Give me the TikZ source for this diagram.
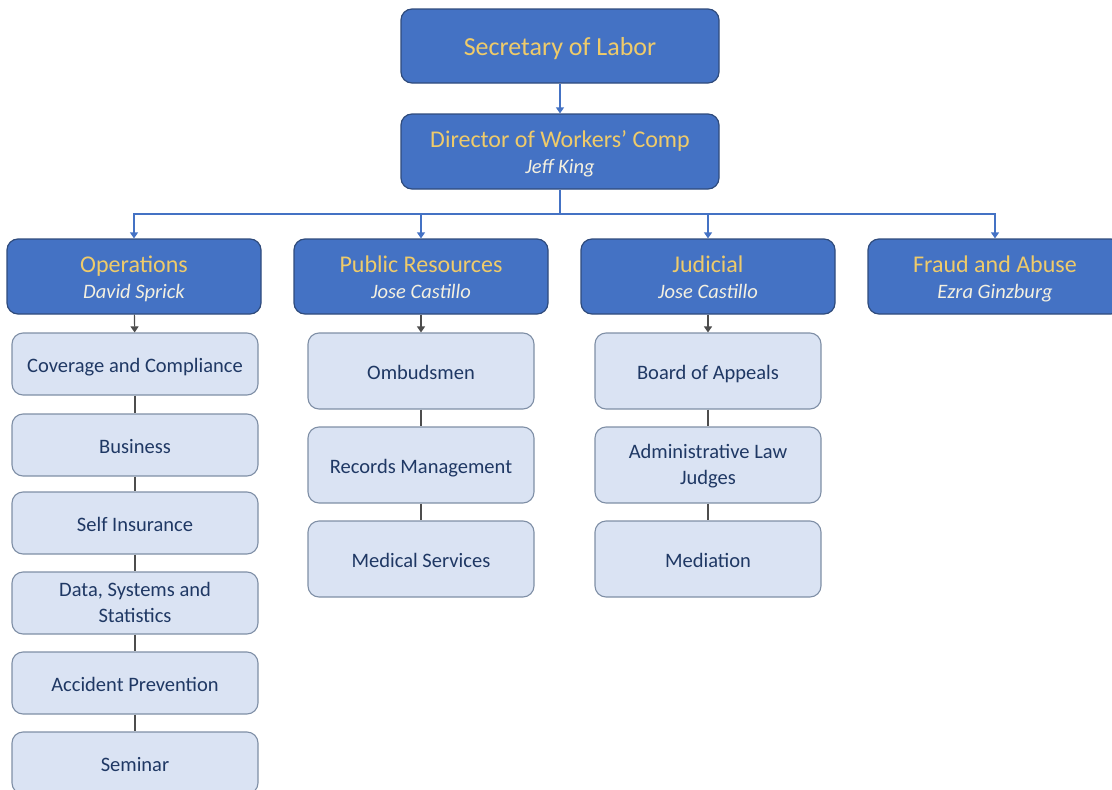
\documentclass[tikz,border=0pt]{standalone}
\usepackage{fontspec}
\setmainfont{Carlito}
\usepackage{tikz}
\usetikzlibrary{arrows.meta}

\definecolor{headfill}{HTML}{4472C4}
\definecolor{headdraw}{HTML}{2F4B7C}
\definecolor{headtext}{HTML}{EFCB6A}
\definecolor{nametext}{HTML}{F4F0E0}
\definecolor{subfill}{HTML}{DAE3F3}
\definecolor{subdraw}{HTML}{7F8FA6}
\definecolor{subtext}{HTML}{1F3864}
\definecolor{linkblue}{HTML}{4472C4}
\definecolor{linkgray}{HTML}{4D4D4D}

\newcommand{\who}[1]{{\fontsize{20.5}{25}\selectfont\itshape\color{nametext}#1}}

\begin{document}
\begin{tikzpicture}[x=1pt,y=-1pt,
    headbox/.style={draw=headdraw,line width=1.2pt,fill=headfill,rounded corners=11pt,
        text=headtext,align=center,inner sep=0pt,text height=22pt,text depth=4pt,
        font=\fontsize{24}{26}\selectfont},
    headtwo/.style={headbox,text height=48pt,text depth=4pt},
    subbox/.style={draw=subdraw,line width=1.1pt,fill=subfill,rounded corners=11pt,
        text=subtext,align=center,inner sep=0pt,text height=19pt,text depth=3pt,
        font=\fontsize{20.5}{25.5}\selectfont},
    subtwo/.style={subbox,text height=41pt,text depth=3pt},
    bluelink/.style={linkblue,line width=1.2pt},
    bluearrow/.style={bluelink,-{Triangle[length=6pt,width=8pt]}},
    graylink/.style={linkgray,line width=1.1pt},
    grayarrow/.style={graylink,-{Triangle[length=6pt,width=8pt]}}]
                \useasboundingbox (0,0) rectangle (1112,790);
                \clip (0,0) rectangle (1112,790);

                % top of the chart
                \node[headbox,minimum width=318pt,minimum height=74pt,font=\fontsize{26}{28}\selectfont] (sec) at (560,46) {Secretary of Labor};
                \node[headtwo,minimum width=318pt,minimum height=75pt] (dir) at (560,151.5) {Director of Workers’ Comp\\\who{Jeff King}};
                \draw[bluearrow] (sec) -- (dir);

                % divisions
                \node[headtwo,minimum width=254pt,minimum height=75pt] (ops) at (134,276.5) {Operations\\\who{David Sprick}};
                \node[headtwo,minimum width=254pt,minimum height=75pt] (pub) at (421,276.5) {Public Resources\\\who{Jose Castillo}};
                \node[headtwo,minimum width=254pt,minimum height=75pt] (jud) at (708,276.5) {Judicial\\\who{Jose Castillo}};
                \node[headtwo,minimum width=254pt,minimum height=75pt] (fraud) at (995,276.5) {Fraud and Abuse\\\who{Ezra Ginzburg}};

                \coordinate (bus) at (560,214);
                \draw[bluelink] (dir) -- (bus);
                \foreach \n in {ops,pub,jud,fraud} {
                    \draw[bluearrow] (bus) -| (\n.north);
                }

                % operations units
                \node[subbox,minimum width=246pt,minimum height=62pt] (cov) at (135,364) {Coverage and Compliance};
                \node[subbox,minimum width=246pt,minimum height=62pt] (bus1) at (135,445) {Business};
                \node[subbox,minimum width=246pt,minimum height=62pt] (self) at (135,523) {Self Insurance};
                \node[subtwo,minimum width=246pt,minimum height=62pt] (data) at (135,603) {Data, Systems and\\Statistics};
                \node[subbox,minimum width=246pt,minimum height=62pt] (acc) at (135,683) {Accident Prevention};
                \node[subbox,minimum width=246pt,minimum height=62pt] (sem) at (135,763) {Seminar};
                \draw[grayarrow] (ops) -- (cov);
                \draw[graylink] (cov) -- (bus1);
                \draw[graylink] (bus1) -- (self);
                \draw[graylink] (self) -- (data);
                \draw[graylink] (data) -- (acc);
                \draw[graylink] (acc) -- (sem);

                % public resources units
                \node[subbox,minimum width=226pt,minimum height=76pt] (omb) at (421,371) {Ombudsmen};
                \node[subbox,minimum width=226pt,minimum height=76pt] (rec) at (421,465) {Records Management};
                \node[subbox,minimum width=226pt,minimum height=76pt] (med) at (421,559) {Medical Services};
                \draw[grayarrow] (pub) -- (omb);
                \draw[graylink] (omb) -- (rec);
                \draw[graylink] (rec) -- (med);

                % judicial units
                \node[subbox,minimum width=226pt,minimum height=76pt] (boa) at (708,371) {Board of Appeals};
                \node[subtwo,minimum width=226pt,minimum height=76pt] (alj) at (708,465) {Administrative Law\\Judges};
                \node[subbox,minimum width=226pt,minimum height=76pt] (medi) at (708,559) {Mediation};
                \draw[grayarrow] (jud) -- (boa);
                \draw[graylink] (boa) -- (alj);
                \draw[graylink] (alj) -- (medi);
\end{tikzpicture}
\end{document}
